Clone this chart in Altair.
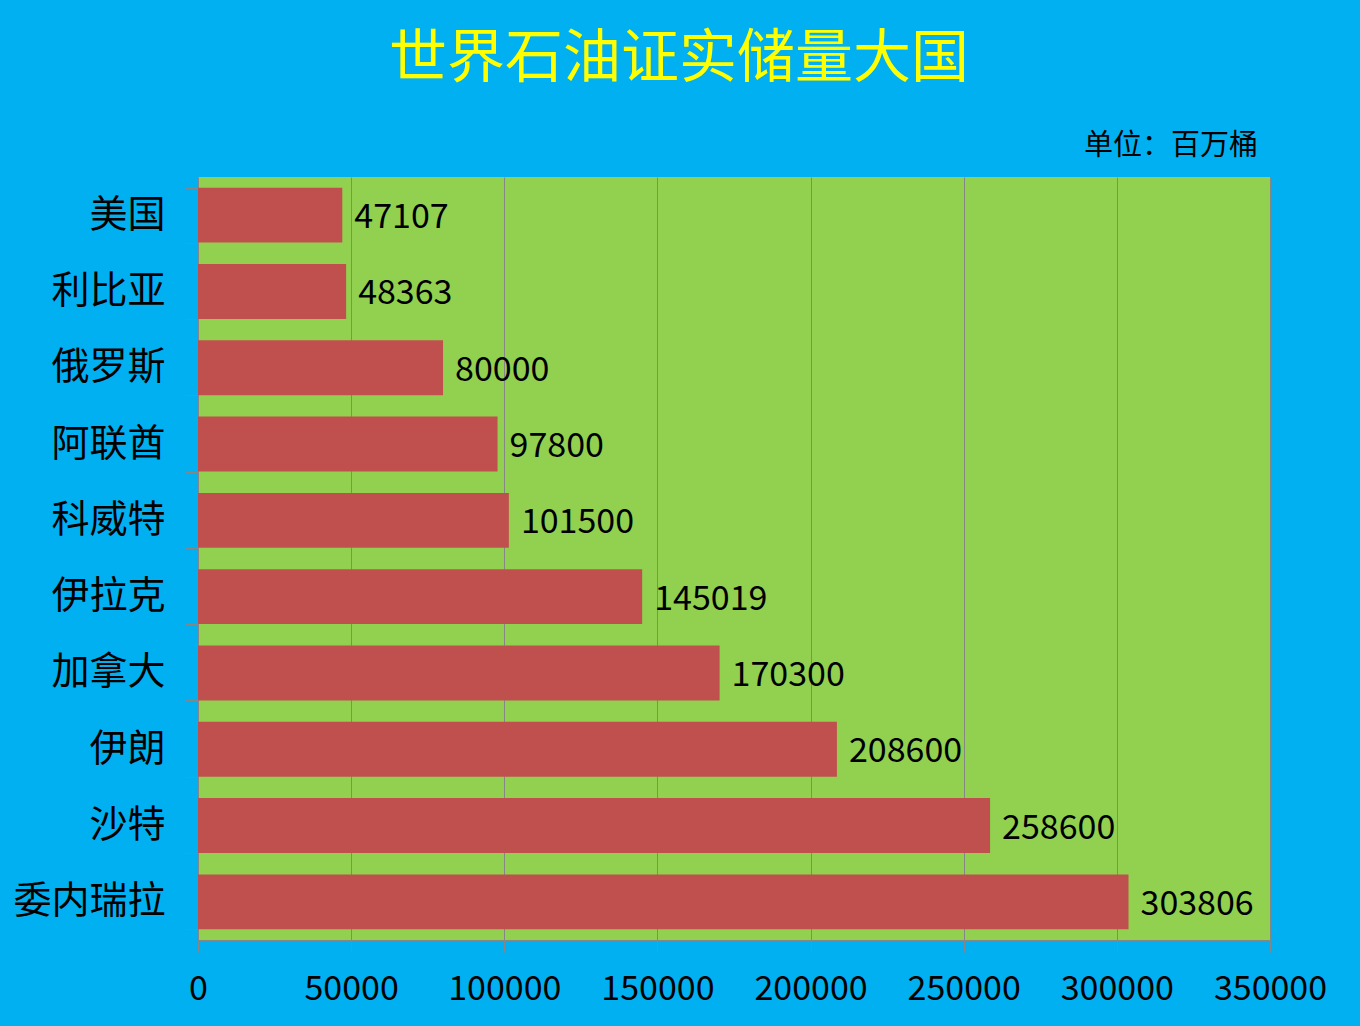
import altair as alt
import pandas as pd

countries = ["美国", "利比亚", "俄罗斯", "阿联酋", "科威特", "伊拉克", "加拿大", "伊朗", "沙特", "委内瑞拉"]
reserves = [47107, 48363, 80000, 97800, 101500, 145019, 170300, 208600, 258600, 303806]
x_ticks = [0, 50000, 100000, 150000, 200000, 250000, 300000, 350000]

df = pd.DataFrame({"country": countries, "value": reserves})

FONT = "Noto Sans CJK SC"

y_enc = alt.Y(
    "country:N",
    sort=countries,
    title=None,
    scale=alt.Scale(paddingInner=0.28, paddingOuter=0.14),
    axis=alt.Axis(
        labelFont=FONT, labelFontSize=38, labelColor="#000000",
        tickBand="extent", tickSize=13, tickColor="#868686",
        domainColor="#868686", labelPadding=20, grid=False,
    ),
)
x_enc = alt.X(
    "value:Q",
    title=None,
    scale=alt.Scale(domain=[0, 350000], nice=False),
    axis=alt.Axis(
        values=x_ticks, format="d", labelFont=FONT, labelFontSize=34,
        labelColor="#000000", tickSize=12, tickColor="#868686",
        domainColor="#868686", gridColor="#868686", gridWidth=1,
        labelPadding=20, labelFlush=False,
    ),
)

bars = alt.Chart(df).mark_bar(color="#C0504D").encode(x=x_enc, y=y_enc)

labels = alt.Chart(df).mark_text(
    align="left", baseline="middle", dx=12, dy=3, font=FONT, fontSize=34, color="#000000"
).encode(x="value:Q", y=alt.Y("country:N", sort=countries), text="value:Q")

unit = alt.Chart(pd.DataFrame({"t": ["单位：百万桶"]})).mark_text(
    align="right", baseline="middle", font=FONT, fontSize=29, color="#000000"
).encode(x=alt.value(1060), y=alt.value(-31), text="t:N")

chart = alt.layer(bars, labels, unit).properties(
    width=1072,
    height=763,
    autosize=alt.AutoSizeParams(type="none"),
    padding={"left": 198, "top": 177, "right": 90, "bottom": 86},
    background="#00B0F0",
    title=alt.TitleParams(
        "世界石油证实储量大国", font=FONT, fontSize=58, color="#FFFF00",
        fontWeight="normal", anchor="middle", dx=-55, offset=43,
    ),
).configure_view(fill="#92D050", stroke=None)

chart.save("out.html", embed_options={"renderer": "svg", "actions": False})
